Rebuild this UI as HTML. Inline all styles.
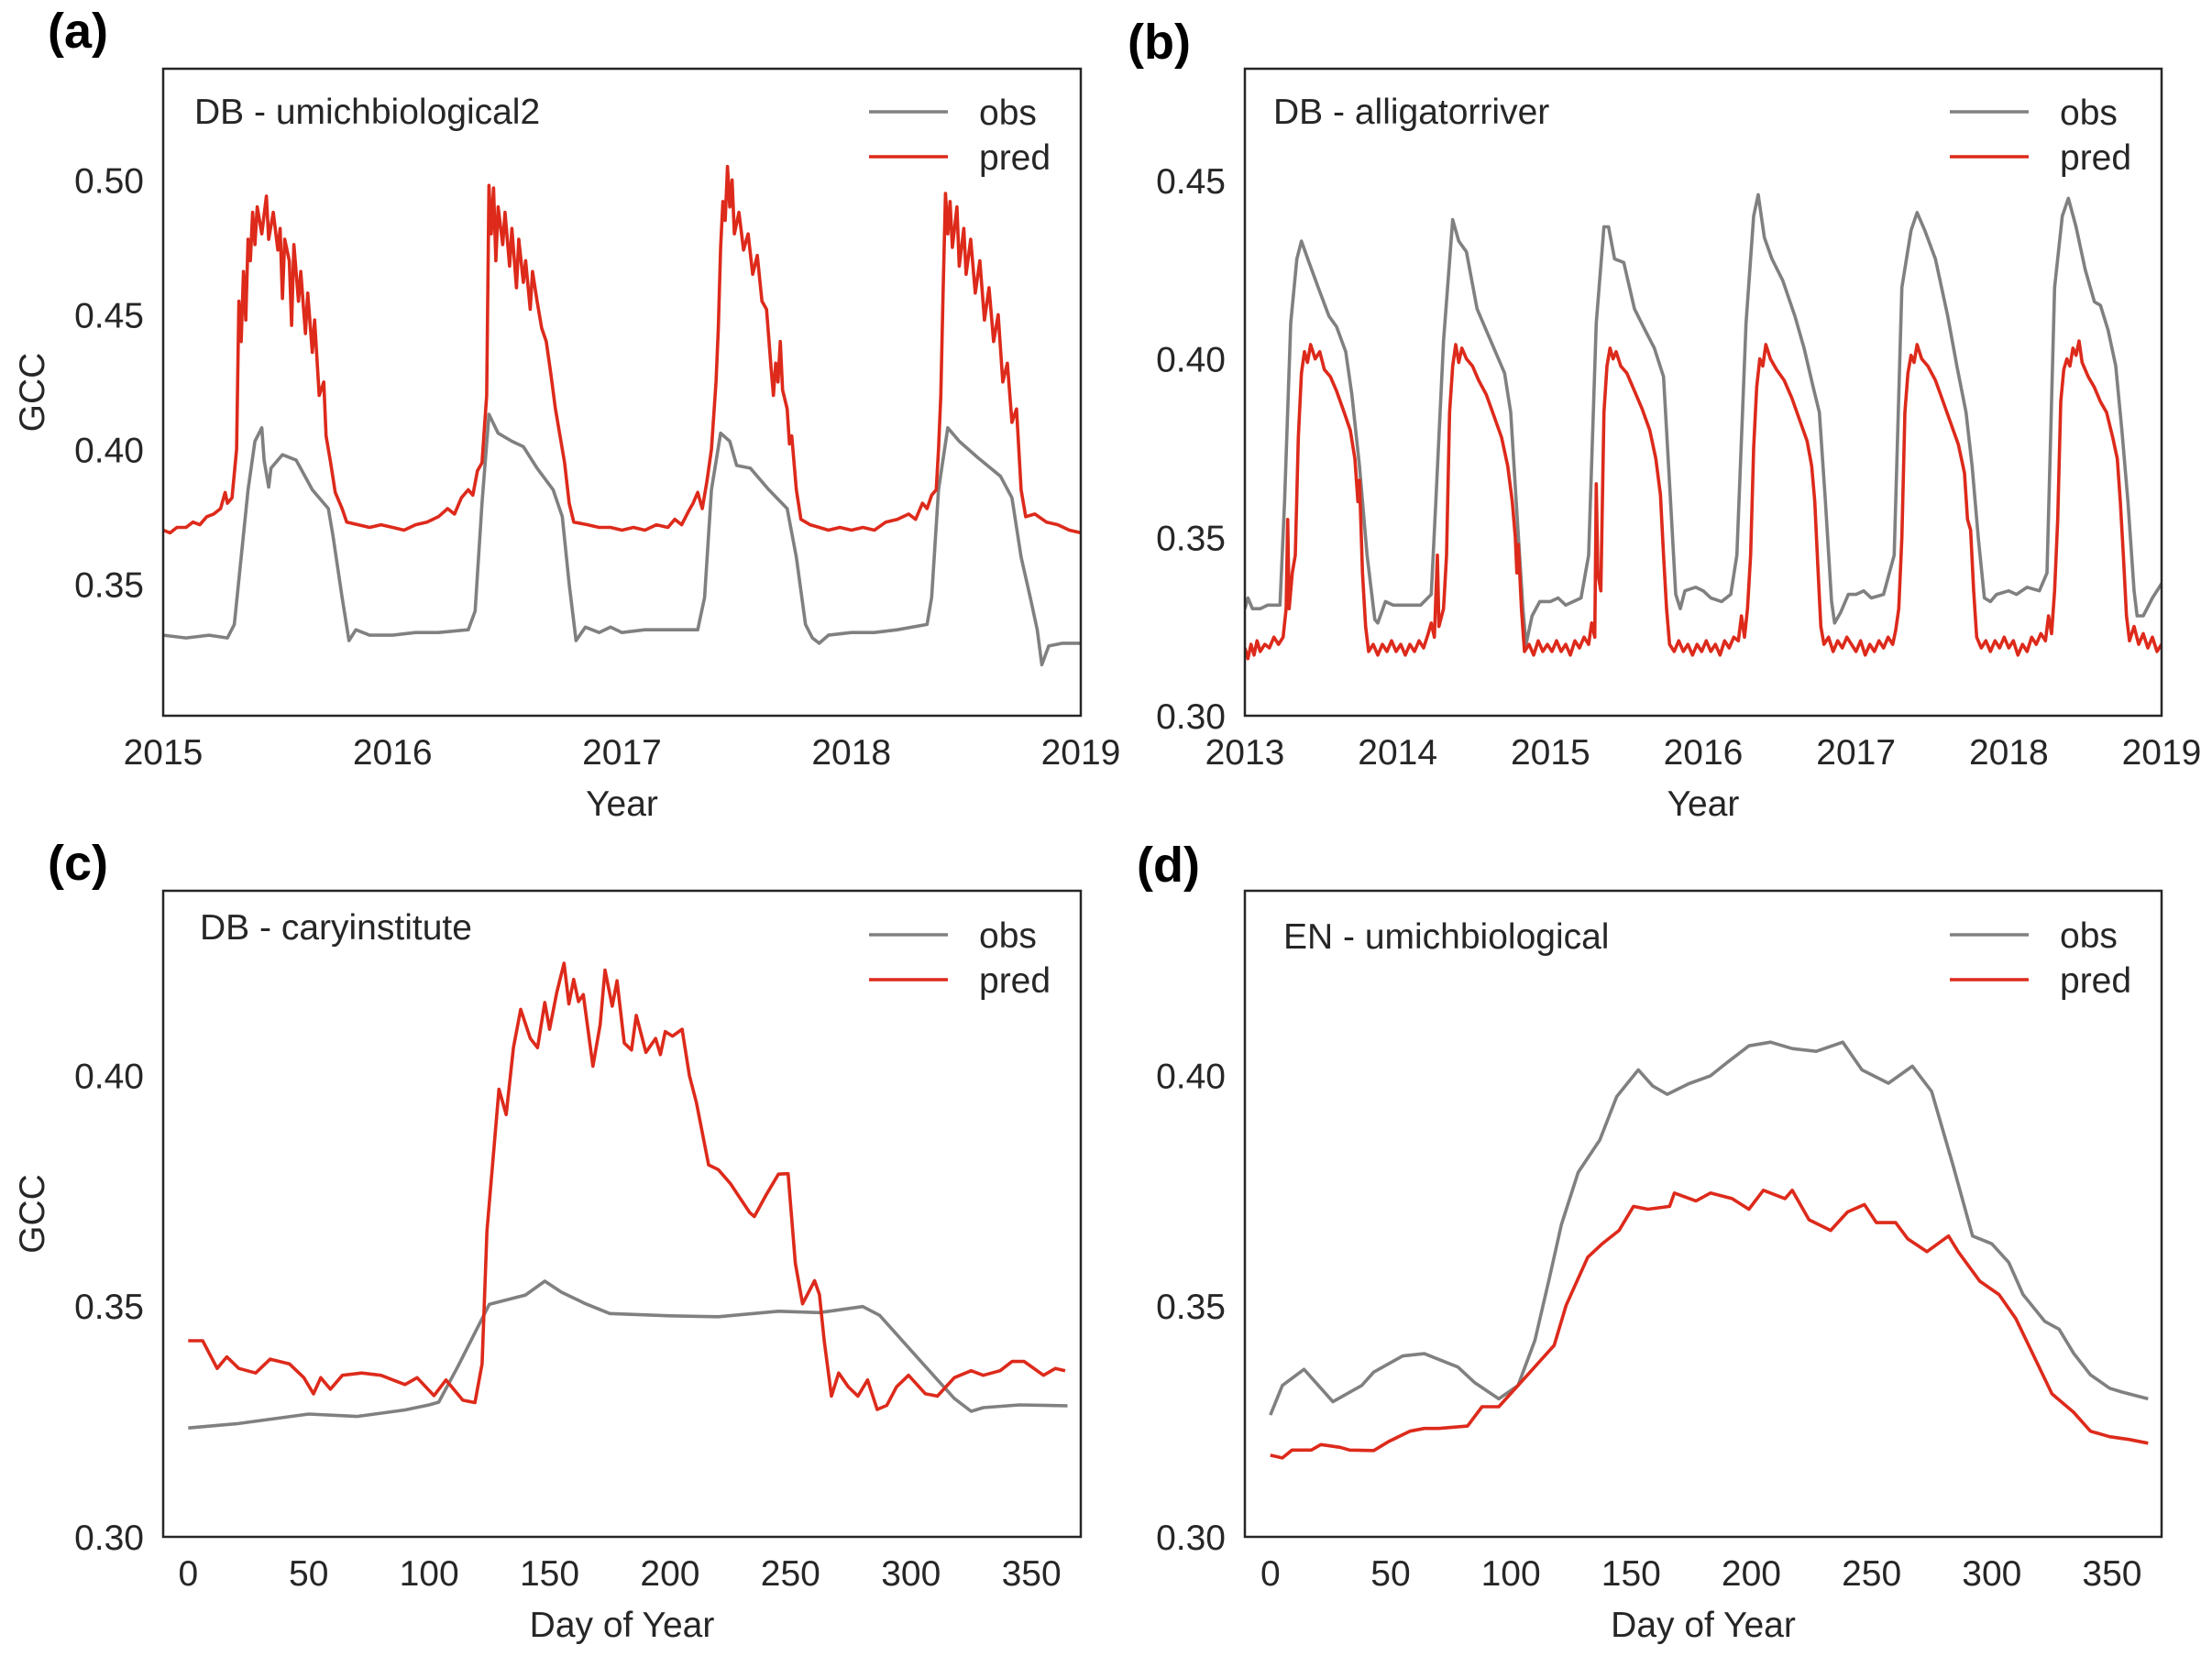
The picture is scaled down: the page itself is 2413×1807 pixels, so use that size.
<!DOCTYPE html>
<html>
<head>
<meta charset="utf-8">
<style>
html,body{margin:0;padding:0;background:#fff;}
svg{display:block;font-family:"Liberation Sans",Arial,sans-serif;}
</style>
</head>
<body>
<svg id="chart" xmlns="http://www.w3.org/2000/svg" width="2413" height="1807" viewBox="0 0 2413 1807">
<rect x="0" y="0" width="2413" height="1807" fill="#ffffff"/>
</svg>
<script>
// ---------- Panel (a) data: DB - umichbiological2 ----------
const obsA = [[2015.00,.331],[2015.10,.330],[2015.20,.331],[2015.28,.330],[2015.31,.335],[2015.34,.360],[2015.37,.385],[2015.40,.403],[2015.43,.408],[2015.44,.396],[2015.46,.386],[2015.47,.393],[2015.52,.398],[2015.58,.396],[2015.65,.385],[2015.72,.378],[2015.74,.368],[2015.78,.345],[2015.81,.329],[2015.84,.333],[2015.90,.331],[2016.00,.331],[2016.10,.332],[2016.20,.332],[2016.33,.333],[2016.36,.340],[2016.39,.380],[2016.42,.413],[2016.46,.406],[2016.52,.403],[2016.57,.401],[2016.63,.393],[2016.70,.385],[2016.74,.375],[2016.77,.350],[2016.80,.329],[2016.84,.334],[2016.90,.332],[2016.95,.334],[2017.00,.332],[2017.10,.333],[2017.20,.333],[2017.33,.333],[2017.36,.345],[2017.39,.385],[2017.43,.406],[2017.47,.403],[2017.50,.394],[2017.56,.393],[2017.64,.385],[2017.72,.378],[2017.76,.360],[2017.80,.335],[2017.83,.330],[2017.86,.328],[2017.90,.331],[2018.00,.332],[2018.10,.332],[2018.20,.333],[2018.33,.335],[2018.35,.345],[2018.38,.385],[2018.42,.408],[2018.47,.403],[2018.55,.397],[2018.65,.390],[2018.70,.382],[2018.74,.360],[2018.78,.345],[2018.81,.333],[2018.83,.320],[2018.86,.327],[2018.92,.328],[2019.00,.328]];
const predA = [[2015.00,.370],[2015.03,.369],[2015.06,.371],[2015.10,.371],[2015.13,.373],[2015.16,.372],[2015.19,.375],[2015.22,.376],[2015.25,.378],[2015.27,.384],[2015.28,.380],[2015.30,.382],[2015.32,.400],[2015.33,.455],[2015.34,.440],[2015.35,.466],[2015.36,.448],[2015.37,.478],[2015.38,.470],[2015.39,.488],[2015.40,.476],[2015.41,.490],[2015.43,.480],[2015.45,.494],[2015.46,.478],[2015.48,.488],[2015.50,.474],[2015.51,.482],[2015.52,.456],[2015.53,.478],[2015.55,.470],[2015.56,.446],[2015.57,.476],[2015.59,.455],[2015.60,.466],[2015.62,.443],[2015.63,.458],[2015.65,.436],[2015.66,.448],[2015.68,.420],[2015.70,.425],[2015.71,.405],[2015.73,.395],[2015.75,.384],[2015.78,.378],[2015.80,.373],[2015.85,.372],[2015.90,.371],[2015.95,.372],
[2016.00,.371],[2016.05,.370],[2016.10,.372],[2016.15,.373],[2016.20,.375],[2016.24,.378],[2016.27,.376],[2016.30,.382],[2016.33,.385],[2016.35,.383],[2016.37,.392],[2016.39,.395],[2016.41,.420],[2016.42,.498],[2016.43,.480],[2016.44,.497],[2016.45,.470],[2016.46,.490],[2016.48,.476],[2016.49,.488],[2016.51,.468],[2016.52,.482],[2016.54,.460],[2016.55,.478],[2016.57,.462],[2016.58,.470],[2016.60,.452],[2016.61,.466],[2016.63,.455],[2016.65,.445],[2016.67,.440],[2016.69,.428],[2016.71,.415],[2016.73,.405],[2016.75,.395],[2016.77,.380],[2016.79,.373],[2016.85,.372],[2016.90,.371],[2016.95,.371],
[2017.00,.370],[2017.05,.371],[2017.10,.370],[2017.15,.372],[2017.20,.371],[2017.23,.374],[2017.26,.372],[2017.29,.377],[2017.31,.380],[2017.33,.384],[2017.35,.378],[2017.37,.388],[2017.39,.400],[2017.41,.425],[2017.42,.445],[2017.43,.475],[2017.44,.492],[2017.45,.485],[2017.46,.505],[2017.47,.490],[2017.48,.500],[2017.49,.480],[2017.51,.488],[2017.53,.474],[2017.55,.480],[2017.57,.465],[2017.59,.472],[2017.61,.455],[2017.63,.452],[2017.65,.430],[2017.66,.420],[2017.67,.432],[2017.68,.425],[2017.69,.440],[2017.70,.422],[2017.72,.415],[2017.73,.402],[2017.74,.405],[2017.76,.385],[2017.78,.374],[2017.82,.372],[2017.86,.371],[2017.90,.370],[2017.95,.371],
[2018.00,.370],[2018.05,.371],[2018.10,.370],[2018.15,.373],[2018.20,.374],[2018.25,.376],[2018.28,.374],[2018.31,.380],[2018.33,.378],[2018.35,.383],[2018.37,.385],[2018.38,.400],[2018.39,.420],[2018.40,.460],[2018.41,.495],[2018.42,.480],[2018.43,.492],[2018.44,.475],[2018.46,.490],[2018.47,.468],[2018.49,.482],[2018.50,.465],[2018.52,.478],[2018.54,.458],[2018.56,.470],[2018.58,.448],[2018.60,.460],[2018.62,.440],[2018.64,.450],[2018.66,.425],[2018.68,.432],[2018.70,.410],[2018.72,.415],[2018.74,.385],[2018.76,.375],[2018.80,.376],[2018.85,.373],[2018.90,.372],[2018.95,.370],[2019.00,.369]];

// ---------- Panel (b) data: DB - alligatorriver ----------
const obsB = [[2013.00,.330],[2013.02,.333],[2013.05,.330],[2013.10,.330],[2013.15,.331],[2013.23,.331],[2013.26,.360],[2013.30,.410],[2013.34,.428],[2013.37,.433],[2013.42,.427],[2013.48,.420],[2013.55,.412],[2013.60,.409],[2013.66,.402],[2013.70,.390],[2013.75,.370],[2013.80,.345],[2013.85,.327],[2013.87,.326],[2013.92,.332],[2013.97,.331],[2014.05,.331],[2014.15,.331],[2014.22,.334],[2014.25,.360],[2014.30,.405],[2014.36,.439],[2014.40,.433],[2014.45,.430],[2014.52,.414],[2014.58,.408],[2014.64,.402],[2014.70,.396],[2014.74,.385],[2014.78,.357],[2014.82,.330],[2014.84,.320],[2014.88,.328],[2014.93,.332],[2015.00,.332],[2015.05,.333],[2015.10,.331],[2015.20,.333],[2015.25,.345],[2015.30,.410],[2015.35,.437],[2015.38,.437],[2015.42,.428],[2015.48,.427],[2015.55,.414],[2015.62,.408],[2015.68,.403],[2015.74,.395],[2015.78,.365],[2015.82,.334],[2015.85,.330],[2015.88,.335],[2015.95,.336],[2016.00,.335],[2016.05,.333],[2016.12,.332],[2016.18,.334],[2016.22,.345],[2016.28,.410],[2016.33,.440],[2016.36,.446],[2016.40,.434],[2016.45,.428],[2016.52,.422],[2016.60,.412],[2016.66,.403],[2016.72,.392],[2016.76,.385],[2016.80,.360],[2016.84,.332],[2016.86,.326],[2016.90,.329],[2016.95,.334],[2017.00,.334],[2017.05,.335],[2017.10,.333],[2017.18,.334],[2017.25,.345],[2017.30,.420],[2017.36,.436],[2017.40,.441],[2017.45,.436],[2017.52,.428],[2017.60,.412],[2017.66,.398],[2017.72,.385],[2017.76,.370],[2017.80,.350],[2017.84,.333],[2017.88,.332],[2017.92,.334],[2018.00,.335],[2018.05,.334],[2018.12,.336],[2018.20,.335],[2018.25,.340],[2018.30,.420],[2018.35,.440],[2018.39,.445],[2018.44,.437],[2018.50,.425],[2018.56,.416],[2018.60,.415],[2018.65,.408],[2018.70,.398],[2018.74,.380],[2018.78,.360],[2018.82,.335],[2018.84,.328],[2018.88,.328],[2018.94,.333],[2019.00,.337]];
const predB = [[2013.00,.319],[2013.02,.316],[2013.04,.320],[2013.06,.317],[2013.08,.321],[2013.10,.318],[2013.13,.320],[2013.16,.319],[2013.19,.322],[2013.22,.320],[2013.25,.322],[2013.27,.330],[2013.28,.355],[2013.29,.330],[2013.31,.340],[2013.33,.345],[2013.35,.378],[2013.37,.396],[2013.39,.402],[2013.41,.399],[2013.43,.404],[2013.46,.400],[2013.49,.402],[2013.52,.397],[2013.56,.395],[2013.60,.391],[2013.65,.385],[2013.69,.380],[2013.72,.372],[2013.74,.360],[2013.75,.366],[2013.77,.340],[2013.79,.325],[2013.81,.318],[2013.84,.320],[2013.87,.317],[2013.90,.320],[2013.93,.318],[2013.96,.321],[2013.99,.318],
[2014.02,.320],[2014.05,.317],[2014.08,.320],[2014.11,.318],[2014.14,.321],[2014.17,.319],[2014.20,.323],[2014.22,.326],[2014.24,.322],[2014.26,.345],[2014.27,.325],[2014.30,.330],[2014.32,.345],[2014.34,.385],[2014.36,.398],[2014.38,.404],[2014.40,.399],[2014.42,.403],[2014.45,.400],[2014.49,.398],[2014.53,.394],[2014.58,.390],[2014.63,.384],[2014.68,.378],[2014.72,.370],[2014.75,.360],[2014.77,.350],[2014.78,.340],[2014.79,.348],[2014.81,.330],[2014.83,.318],[2014.86,.320],[2014.89,.317],[2014.92,.321],[2014.95,.318],[2014.98,.320],
[2015.01,.318],[2015.04,.321],[2015.07,.318],[2015.10,.320],[2015.13,.317],[2015.16,.321],[2015.19,.319],[2015.22,.322],[2015.25,.320],[2015.27,.326],[2015.29,.322],[2015.30,.365],[2015.31,.340],[2015.33,.335],[2015.35,.385],[2015.37,.398],[2015.39,.403],[2015.41,.400],[2015.43,.402],[2015.46,.398],[2015.50,.396],[2015.55,.391],[2015.60,.386],[2015.65,.380],[2015.69,.372],[2015.72,.362],[2015.74,.345],[2015.76,.330],[2015.78,.320],[2015.81,.318],[2015.84,.321],[2015.87,.318],[2015.90,.320],[2015.93,.317],[2015.96,.320],[2015.99,.318],
[2016.02,.321],[2016.05,.318],[2016.08,.320],[2016.11,.317],[2016.14,.321],[2016.17,.319],[2016.20,.322],[2016.23,.321],[2016.25,.328],[2016.27,.322],[2016.29,.330],[2016.31,.345],[2016.33,.375],[2016.35,.392],[2016.37,.400],[2016.39,.398],[2016.41,.404],[2016.44,.400],[2016.48,.397],[2016.53,.394],[2016.58,.389],[2016.63,.383],[2016.68,.377],[2016.71,.370],[2016.73,.360],[2016.75,.342],[2016.77,.325],[2016.79,.320],[2016.82,.322],[2016.85,.318],[2016.88,.321],[2016.91,.319],[2016.94,.322],[2016.97,.320],
[2017.00,.318],[2017.03,.321],[2017.06,.317],[2017.09,.320],[2017.12,.318],[2017.15,.321],[2017.18,.319],[2017.21,.322],[2017.24,.320],[2017.26,.324],[2017.28,.330],[2017.30,.350],[2017.32,.385],[2017.34,.396],[2017.36,.401],[2017.38,.399],[2017.40,.404],[2017.43,.400],[2017.47,.398],[2017.52,.394],[2017.57,.388],[2017.62,.382],[2017.67,.376],[2017.71,.368],[2017.73,.355],[2017.75,.352],[2017.77,.335],[2017.79,.322],[2017.82,.319],[2017.85,.321],[2017.88,.318],[2017.91,.321],[2017.94,.319],[2017.97,.322],
[2018.00,.319],[2018.03,.321],[2018.06,.317],[2018.09,.320],[2018.12,.318],[2018.15,.322],[2018.18,.320],[2018.21,.323],[2018.24,.321],[2018.26,.328],[2018.28,.323],[2018.30,.335],[2018.32,.355],[2018.34,.388],[2018.36,.397],[2018.38,.400],[2018.40,.398],[2018.42,.403],[2018.44,.401],[2018.46,.405],[2018.48,.399],[2018.52,.395],[2018.56,.392],[2018.60,.388],[2018.64,.385],[2018.68,.378],[2018.71,.372],[2018.73,.360],[2018.75,.345],[2018.77,.328],[2018.79,.321],[2018.82,.325],[2018.85,.320],[2018.88,.323],[2018.91,.319],[2018.94,.322],[2018.97,.318],[2019.00,.320]];

// ---------- Panel (c) data: DB - caryinstitute ----------
const obsC = [[0,.3236],[20,.3245],[50,.3266],[70,.3261],[90,.3275],[100,.3286],[104,.3292],[112,.337],[125,.3504],[140,.3524],[148,.3554],[155,.3530],[165,.3505],[175,.3484],[200,.3479],[220,.3477],[245,.3489],[262,.3486],[280,.3499],[287,.3480],[305,.3375],[318,.3300],[325,.3272],[330,.3280],[345,.3286],[365,.3284]];
const predC = [[0,.3425],[6,.3425],[12,.3365],[16,.3390],[21,.3365],[28,.3355],[34,.3385],[42,.3375],[48,.3345],[52,.3310],[55,.3345],[59,.3320],[64,.3350],[72,.3355],[80,.3350],[85,.3340],[90,.3330],[95,.3345],[102,.3306],[107,.3340],[114,.3296],[119,.3291],[122,.3375],[124,.3663],[129,.3970],[132,.3915],[135,.4060],[138,.4143],[142,.4080],[145,.4060],[148,.4158],[150,.4100],[153,.4180],[156,.4243],[158,.4155],[160,.4208],[162,.4160],[164,.4175],[168,.4020],[171,.4110],[173,.4228],[176,.4150],[178,.4205],[181,.4070],[184,.4055],[186,.4130],[190,.4050],[194,.4080],[196,.4045],[198,.4095],[201,.4085],[205,.4100],[208,.4000],[211,.3940],[216,.3806],[220,.3796],[225,.3766],[233,.3703],[235,.3694],[240,.3742],[245,.3786],[249,.3787],[252,.3593],[255,.3505],[260,.3555],[262,.3525],[264,.3425],[267,.3305],[270,.3355],[274,.3325],[278,.3305],[282,.3340],[286,.3276],[290,.3285],[294,.3325],[299,.3350],[306,.3310],[311,.3305],[318,.3345],[325,.3360],[330,.3350],[337,.3360],[342,.3380],[347,.3380],[355,.3350],[360,.3365],[364,.3360]];

// ---------- Panel (d) data: EN - umichbiological ----------
const obsD = [[0,.3264],[5,.3328],[14,.3363],[26,.3293],[38,.3328],[43,.3357],[55,.3392],[64,.3397],[78,.3368],[85,.3334],[95,.3299],[103,.3328],[110,.3426],[116,.3560],[121,.3676],[128,.3790],[137,.3860],[144,.3954],[153,.4012],[159,.3977],[165,.3959],[174,.3982],[183,.3999],[190,.4028],[199,.4064],[208,.4072],[217,.4058],[227,.4052],[238,.4072],[246,.4012],[257,.3983],[267,.4020],[275,.3965],[284,.3803],[292,.3652],[300,.3635],[307,.3595],[313,.3525],[322,.3467],[328,.3450],[334,.3398],[341,.3351],[349,.3322],[354,.3314],[365,.3299]];
const predD = [[0,.3177],[5,.3171],[9,.3188],[17,.3188],[21,.3200],[29,.3194],[33,.3188],[43,.3187],[49,.3206],[58,.3229],[64,.3235],[70,.3235],[82,.3240],[88,.3282],[95,.3282],[103,.3328],[112,.3380],[118,.3415],[123,.3502],[128,.3560],[132,.3606],[138,.3635],[145,.3664],[151,.3716],[157,.3710],[166,.3716],[168,.3745],[177,.3728],[183,.3745],[192,.3733],[199,.3710],[205,.3751],[214,.3733],[217,.3751],[224,.3687],[233,.3664],[240,.3704],[247,.3720],[252,.3681],[260,.3681],[265,.3646],[273,.3618],[282,.3652],[286,.3618],[295,.3554],[303,.3525],[310,.3473],[317,.3397],[325,.3310],[334,.3270],[341,.3229],[349,.3217],[357,.3211],[365,.3203]];

// ---------- tick labels ----------
const xTicksA = [2015,2016,2017,2018,2019];
const yTicksA = [0.35,0.40,0.45,0.50];
const xTicksB = [2013,2014,2015,2016,2017,2018,2019];
const yTicksB = [0.30,0.35,0.40,0.45];
const xTicksDay = [0,50,100,150,200,250,300,350];
const yTicksCD = [0.30,0.35,0.40];

const NS = 'http://www.w3.org/2000/svg';
const svg = document.getElementById('chart');
const INK = '#262626', GREY = '#808080', RED = '#dd2a1b';

function mk(tag, attrs, parent){
  const e = document.createElementNS(NS, tag);
  for (const k in attrs) e.setAttribute(k, attrs[k]);
  (parent||svg).appendChild(e);
  return e;
}
function txt(str, attrs, parent){
  const e = mk('text', attrs, parent);
  e.textContent = str;
  return e;
}

function drawPanel(p){
  const g = mk('g', {});
  
  
  const sx = v => p.x0 + (v - p.xd[0]) / (p.xd[1] - p.xd[0]) * (p.x1 - p.x0);
  const sy = v => p.y1 - (v - p.yd[0]) / (p.yd[1] - p.yd[0]) * (p.y1 - p.y0);

  const clipId = 'clip-' + p.name;
  const cp = mk('clipPath', {id: clipId}, g);
  mk('rect', {x: p.x0, y: p.y0, width: p.x1 - p.x0, height: p.y1 - p.y0}, cp);

  const series = [[p.obs, GREY, 'obs-line'], [p.pred, RED, 'pred-line']];
  for (const s of series){
    const d = s[0].map((pt, i) => (i ? 'L' : 'M') + sx(pt[0]).toFixed(1) + ',' + sy(pt[1]).toFixed(1)).join(' ');
    const path = mk('path', {d: d, fill: 'none', stroke: s[1], 'stroke-width': 3.6, 'stroke-linejoin': 'round', 'clip-path': 'url(#' + clipId + ')'}, g);
    
    
  }

  const fr = mk('rect', {x: p.x0, y: p.y0, width: p.x1 - p.x0, height: p.y1 - p.y0, fill: 'none', stroke: INK, 'stroke-width': 2.5}, g);
  
  

  for (const t of p.xt){
    const lab = txt(String(t), {x: sx(t), y: p.y1 + 53, 'text-anchor': 'middle', 'font-size': 39, fill: INK}, g);
    
    
  }
  for (const t of p.yt){
    const lab = txt(t.toFixed(2), {x: p.x0 - 21, y: sy(t) + 14, 'text-anchor': 'end', 'font-size': 39, fill: INK}, g);
    
    
  }
  const xt = txt(p.xlabel, {x: (p.x0 + p.x1) / 2, y: p.y1 + 109, 'text-anchor': 'middle', 'font-size': 39, fill: INK}, g);
  
  
  if (p.ylabel){
    const cy = (p.y0 + p.y1) / 2;
    const yt = txt(p.ylabel, {x: 48, y: cy, 'text-anchor': 'middle', 'font-size': 39, fill: INK, transform: 'rotate(-90 48 ' + cy + ')'}, g);
    
    
  }
  const pl = txt(p.letter, {x: p.lx, y: p.ly, 'font-size': 54, 'font-weight': 'bold', fill: '#000'}, g);
  
  
  const st = txt(p.title, {x: p.tx, y: p.ty, 'font-size': 39, fill: INK}, g);
  
  
  const lg = mk('g', {}, g);
  
  
  const entries = [['obs', GREY, p.ly1], ['pred', RED, p.ly2]];
  for (const en of entries){
    const ln = mk('line', {x1: p.x1 - 231, x2: p.x1 - 145, y1: en[2], y2: en[2], stroke: en[1], 'stroke-width': 3.6}, lg);
    
    
    const lt = txt(en[0], {x: p.x1 - 111, y: en[2] + 14, 'font-size': 39, fill: INK}, lg);
    
    
  }
}

drawPanel({name:'panel-a', letter:'(a)', lx:52, ly:52, title:'DB - umichbiological2', tx:212, ty:135,
  x0:178, x1:1179, y0:75, y1:781, xd:[2015,2019], yd:[0.3011,0.5413], xt:xTicksA, yt:yTicksA,
  obs:obsA, pred:predA, xlabel:'Year', ylabel:'GCC', ly1:122, ly2:171});
drawPanel({name:'panel-b', letter:'(b)', lx:1230, ly:64, title:'DB - alligatorriver', tx:1389, ty:135,
  x0:1358, x1:2358, y0:75, y1:781, xd:[2013,2019], yd:[0.30,0.4813], xt:xTicksB, yt:yTicksB,
  obs:obsB, pred:predB, xlabel:'Year', ylabel:null, ly1:122, ly2:171});
drawPanel({name:'panel-c', letter:'(c)', lx:52, ly:960, title:'DB - caryinstitute', tx:218, ty:1025,
  x0:178, x1:1179, y0:972, y1:1677, xd:[-10.4,370.5], yd:[0.30,0.44], xt:xTicksDay, yt:yTicksCD,
  obs:obsC, pred:predC, xlabel:'Day of Year', ylabel:'GCC', ly1:1020, ly2:1069});
drawPanel({name:'panel-d', letter:'(d)', lx:1240, ly:962, title:'EN - umichbiological', tx:1400, ty:1035,
  x0:1358, x1:2358, y0:972, y1:1677, xd:[-10.6,370.6], yd:[0.30,0.44], xt:xTicksDay, yt:yTicksCD,
  obs:obsD, pred:predD, xlabel:'Day of Year', ylabel:null, ly1:1020, ly2:1069});
</script>
</body>
</html>
